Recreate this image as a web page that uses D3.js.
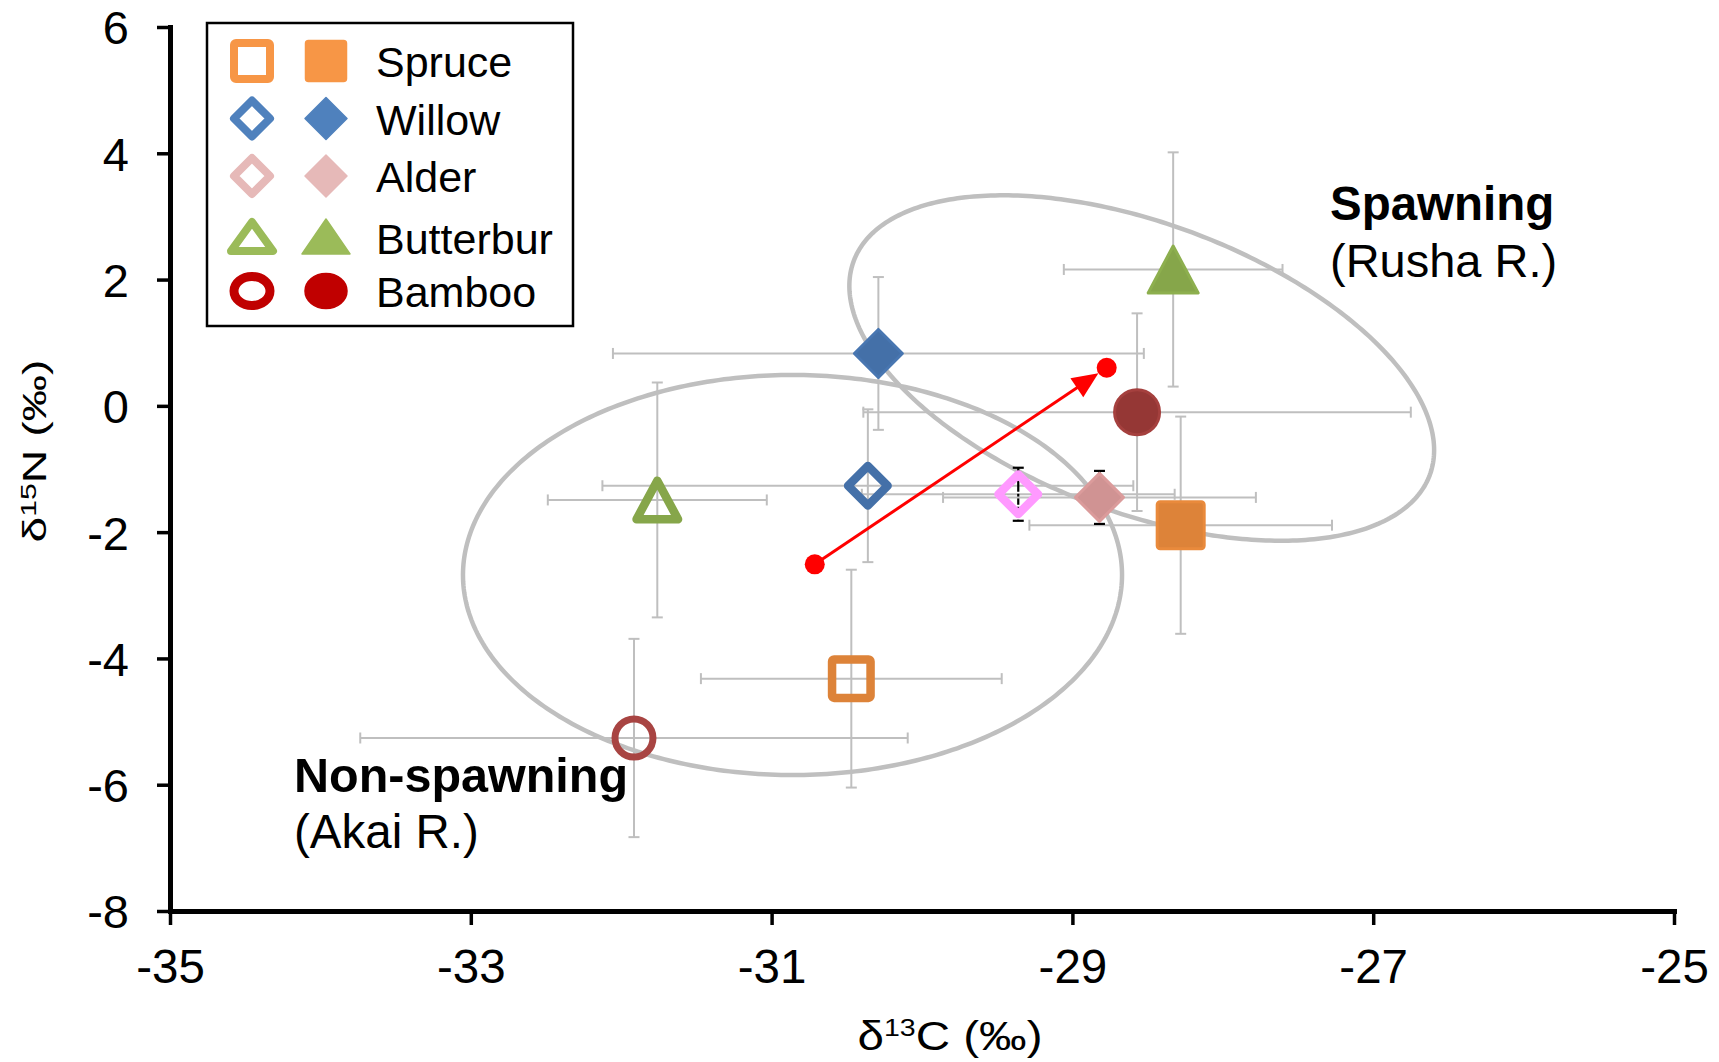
<!DOCTYPE html>
<html><head><meta charset="utf-8">
<script src="https://cdn.jsdelivr.net/npm/d3@7"></script>
<style>html,body{margin:0;padding:0;background:#fff;} svg{display:block;font-family:"Liberation Sans",Arial,sans-serif;}</style>
</head><body><svg id="chart" width="1719" height="1062"></svg>
<script>
// ---------- data ----------
const xTicks = [-35, -33, -31, -29, -27, -25];
const yTicks = [6, 4, 2, 0, -2, -4, -6, -8];
const species = ["Spruce", "Willow", "Alder", "Butterbur", "Bamboo"];
const shapes = ["square", "diamond", "diamond", "triangle", "circle"];
const legendColors = ["#F79646", "#4F81BD", "#E6B9B8", "#9BBB59", "#C00000"];
const openColors = ["#DD8339", "#4470A8", "#FF99FF", "#86A64A", "#A84442"];
const filledColors = ["#DD8339", "#4470A8", "#D09393", "#86A64A", "#953735"];
const yErrColors = ["#BFBFBF", "#BFBFBF", "#000000", "#BFBFBF", "#BFBFBF"];

// Non-spawning (Akai R.) - open markers
const nonSpawnX = [-30.47, -30.36, -29.36, -31.76, -31.915];
const nonSpawnY = [-4.32, -1.265, -1.40, -1.49, -5.26];
const nonSpawnXErr = [1.0, 1.765, 1.04, 0.728, 1.82];
const nonSpawnYErr = [1.725, 1.21, 0.42, 1.86, 1.57];
// Spawning (Rusha R.) - filled markers
const spawnX = [-28.28, -30.29, -28.82, -28.33, -28.57];
const spawnY = [-1.89, 0.83, -1.45, 2.16, -0.10];
const spawnXErr = [1.006, 1.765, 1.04, 0.727, 1.82];
const spawnYErr = [1.72, 1.21, 0.42, 1.855, 1.565];

// shift arrow between group centres
const arrowFrom = [-30.713, -2.51];
const arrowTo = [-28.772, 0.604];

// group ellipses (centre, two conjugate semi-axis vectors in data units)
const ellipseNon = {c: [-30.861, -2.679], u: [2.191, 0], v: [0, 3.168]};
const ellipseSpawn = {c: [-28.539, 0.599], u: [1.915, -1.695], v: [-0.3348, -2.147]};

// ---------- chart ----------
const svg = d3.select("#chart");
const x = d3.scaleLinear().domain([-35, -25]).range([170, 1674]);
const y = d3.scaleLinear().domain([-8, 6]).range([911, 27]);

// ellipses
function ellipsePts(e) {
  return d3.range(0, 360, 1).map(deg => {
    const t = deg * Math.PI / 180;
    return [x(e.c[0] + e.u[0] * Math.cos(t) + e.v[0] * Math.sin(t)),
            y(e.c[1] + e.u[1] * Math.cos(t) + e.v[1] * Math.sin(t))];
  });
}
const gEll = svg.append("g");
[ellipseNon, ellipseSpawn].forEach(e => {
  gEll.append("path").attr("d", d3.line().curve(d3.curveLinearClosed)(ellipsePts(e)))
    .attr("fill", "none").attr("stroke", "#BFBFBF").attr("stroke-width", 4.5);
});

// error bars
const gErr = svg.append("g");
const cap = 5.5;
function errBars(xs, ys, xe, ye) {
  xs.forEach((xv, i) => {
    const cx = x(xv), cy = y(ys[i]);
    const x0 = x(xv - xe[i]), x1 = x(xv + xe[i]);
    const y0 = y(ys[i] + ye[i]), y1 = y(ys[i] - ye[i]);
    const g = gErr.append("g").attr("stroke", "#BFBFBF").attr("stroke-width", 2);
    g.append("line").attr("x1", x0).attr("x2", x1).attr("y1", cy).attr("y2", cy);
    g.append("line").attr("x1", x0).attr("x2", x0).attr("y1", cy - cap).attr("y2", cy + cap);
    g.append("line").attr("x1", x1).attr("x2", x1).attr("y1", cy - cap).attr("y2", cy + cap);
    const black = yErrColors[i] === "#000000";
    const gv = gErr.append("g").attr("stroke", yErrColors[i]).attr("stroke-width", black ? 2.2 : 2);
    gv.append("line").attr("x1", cx).attr("x2", cx).attr("y1", y0).attr("y2", y1)
      .attr("stroke-dasharray", black ? "11,2" : null);
    gv.append("line").attr("x1", cx - cap).attr("x2", cx + cap).attr("y1", y0).attr("y2", y0);
    gv.append("line").attr("x1", cx - cap).attr("x2", cx + cap).attr("y1", y1).attr("y2", y1);
  });
}
errBars(nonSpawnX, nonSpawnY, nonSpawnXErr, nonSpawnYErr);
errBars(spawnX, spawnY, spawnXErr, spawnYErr);

// marker drawing
function marker(g, shape, cx, cy, W, H, color, open, sw, rim) {
  const w = open ? sw : 0;
  const hw = W / 2 - w / 2, hh = H / 2 - w / 2;
  let el;
  if (shape === "square") {
    el = g.append("rect").attr("x", cx - hw).attr("y", cy - hh).attr("width", 2 * hw).attr("height", 2 * hh).attr("rx", open ? 2 : 3);
  } else if (shape === "diamond") {
    el = g.append("path").attr("d", `M${cx},${cy - hh}L${cx + hw},${cy}L${cx},${cy + hh}L${cx - hw},${cy}Z`);
  } else if (shape === "triangle") {
    el = g.append("path").attr("d", `M${cx},${cy - hh}L${cx + hw},${cy + hh}L${cx - hw},${cy + hh}Z`);
  } else {
    el = g.append("ellipse").attr("cx", cx).attr("cy", cy).attr("rx", hw).attr("ry", hh);
  }
  if (open) {
    el.attr("fill", "none").attr("stroke", color).attr("stroke-width", sw).attr("stroke-linejoin", "round");
  } else {
    el.attr("fill", color).attr("stroke", rim || color).attr("stroke-width", rim ? 3 : 1.5).attr("stroke-linejoin", "round");
  }
}
const plotSize = {square: [47, 47], diamond: [48, 48], triangle: [50, 47], circle: [45, 45]};
const gMk = svg.append("g");
nonSpawnX.forEach((xv, i) => {
  const s = plotSize[shapes[i]];
  marker(gMk, shapes[i], x(xv), y(nonSpawnY[i]), s[0], s[1], openColors[i], true, shapes[i] === "circle" ? 7 : 8.5);
});
spawnX.forEach((xv, i) => {
  const s = plotSize[shapes[i]];
  const rim = shapes[i] === "circle" ? "#A5403E" : d3.color(filledColors[i]).brighter(0.15).formatHex();
  marker(gMk, shapes[i], x(xv), y(spawnY[i]), s[0], s[1], filledColors[i], false, 0, rim);
});

// arrow
const ax0 = x(arrowFrom[0]), ay0 = y(arrowFrom[1]), ax1 = x(arrowTo[0]), ay1 = y(arrowTo[1]);
const len = Math.hypot(ax1 - ax0, ay1 - ay0), dx = (ax1 - ax0) / len, dy = (ay1 - ay0) / len;
const dotR = 10, headL = 26, headW = 11.5;
const tipX = ax1 - dx * dotR, tipY = ay1 - dy * dotR;
const bX = tipX - dx * headL, bY = tipY - dy * headL;
const gA = svg.append("g");
gA.append("line").attr("x1", ax0).attr("y1", ay0).attr("x2", bX + dx * 2).attr("y2", bY + dy * 2).attr("stroke", "#FF0000").attr("stroke-width", 3);
gA.append("path").attr("d", `M${tipX},${tipY}L${bX - dy * headW},${bY + dx * headW}L${bX + dy * headW},${bY - dx * headW}Z`).attr("fill", "#FF0000");
gA.append("circle").attr("cx", ax0).attr("cy", ay0).attr("r", dotR).attr("fill", "#FF0000");
gA.append("circle").attr("cx", ax1).attr("cy", ay1).attr("r", dotR).attr("fill", "#FF0000");

// axes
const gx = svg.append("g").attr("transform", "translate(0,911)")
  .call(d3.axisBottom(x).tickValues(xTicks).tickSize(14).tickSizeOuter(0).tickFormat(d => String(d)));
gx.selectAll("text").attr("y", 72).attr("dy", 0).attr("font-size", 47.5).attr("fill", "#000");
const gy = svg.append("g").attr("transform", "translate(170,0)")
  .call(d3.axisLeft(y).tickValues(yTicks).tickSize(13).tickSizeOuter(0).tickFormat(d => String(d)));
gy.selectAll("text").attr("x", -41).attr("dy", "0.36em").attr("font-size", 47).attr("fill", "#000");
[gx, gy].forEach(g => {
  g.attr("font-family", null);
  g.select(".domain").attr("stroke", "#000").attr("stroke-width", 5).attr("stroke-linecap", "square");
  g.selectAll(".tick line").attr("stroke", "#000").attr("stroke-width", 3.5);
});

// axis titles
const xt = svg.append("text").attr("x", 950).attr("y", 1050).attr("text-anchor", "middle")
  .attr("font-size", 40).attr("textLength", 185).attr("lengthAdjust", "spacingAndGlyphs");
xt.append("tspan").text("δ");
xt.append("tspan").attr("font-size", 24).attr("dy", -14).text("13");
xt.append("tspan").attr("dy", 14).text("C (‰)");

const yt = svg.append("text").attr("transform", "translate(46,451) rotate(-90)").attr("text-anchor", "middle")
  .attr("font-size", 34).attr("textLength", 183).attr("lengthAdjust", "spacingAndGlyphs");
yt.append("tspan").text("δ");
yt.append("tspan").attr("font-size", 22).attr("dy", -10).text("15");
yt.append("tspan").attr("dy", 10).text("N (‰)");

// group annotations
const ann = svg.append("g").attr("fill", "#000");
ann.append("text").attr("x", 1330).attr("y", 220).attr("font-size", 47.5).attr("font-weight", "bold").text("Spawning");
ann.append("text").attr("x", 1330).attr("y", 277).attr("font-size", 47).text("(Rusha R.)");
ann.append("text").attr("x", 294).attr("y", 792).attr("font-size", 48.5).attr("font-weight", "bold").text("Non-spawning");
ann.append("text").attr("x", 294).attr("y", 848).attr("font-size", 47.5).text("(Akai R.)");

// legend
const gL = svg.append("g");
gL.append("rect").attr("x", 207).attr("y", 23).attr("width", 366).attr("height", 303)
  .attr("fill", "#fff").attr("stroke", "#000").attr("stroke-width", 2.5);
const legOpen = {square: [44, 44], diamond: [44, 44], triangle: [50, 37], circle: [45, 38]};
const legFill = {square: [41, 41], diamond: [42, 42], triangle: [48, 35], circle: [42, 35]};
species.forEach((name, i) => {
  const ry = 61 + i * 57.5 + (shapes[i] === "triangle" ? 3 : 0);
  const so = legOpen[shapes[i]], sf = legFill[shapes[i]];
  marker(gL, shapes[i], 252, ry, so[0], so[1], legendColors[i], true, shapes[i] === "circle" ? 9 : 8);
  marker(gL, shapes[i], 326, ry, sf[0], sf[1], legendColors[i], false, 0);
  gL.append("text").attr("x", 376).attr("y", 61 + i * 57.5 + 16 + (shapes[i] === "triangle" ? 4 : 0))
    .attr("font-size", 43).attr("fill", "#000").text(name);
});
</script></body></html>
